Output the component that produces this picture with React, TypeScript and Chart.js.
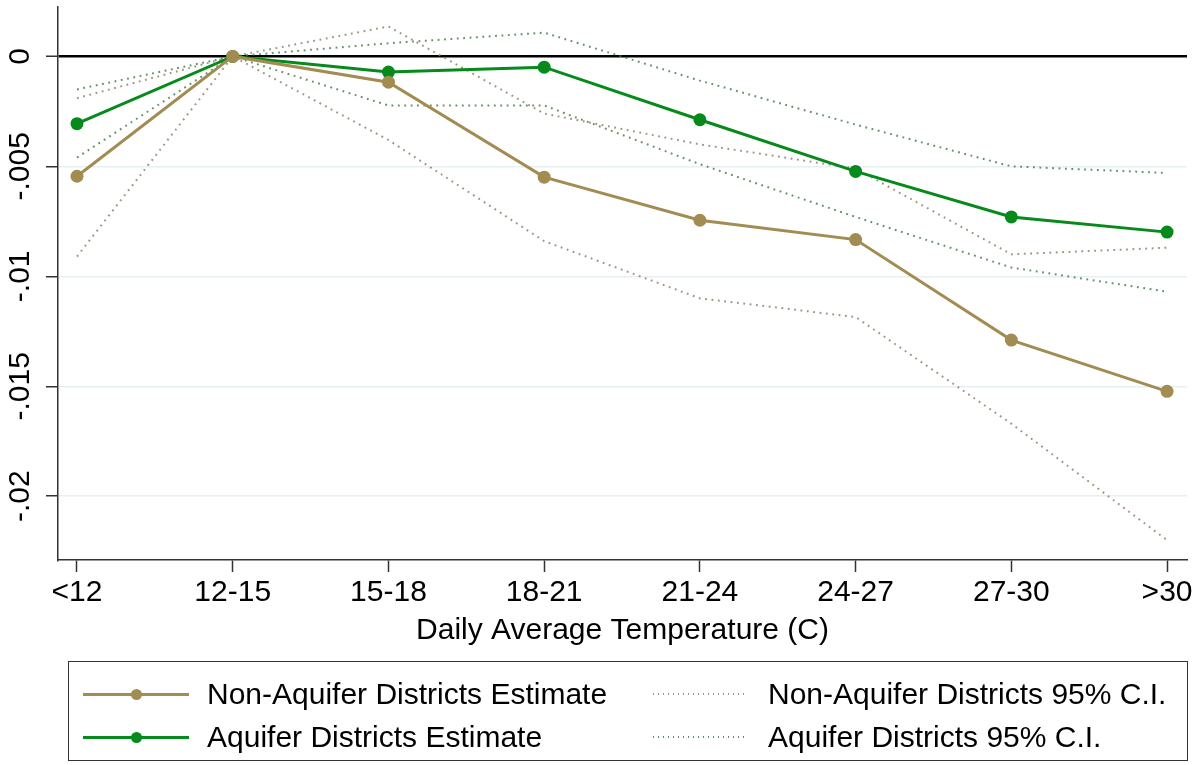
import { useEffect, useRef } from 'react';
import { Chart, registerables } from 'chart.js';

Chart.register(...registerables);

// temperature bins on the x axis
const categories = ['<12', '12-15', '15-18', '18-21', '21-24', '24-27', '27-30', '>30'];

// point estimates
const nonAquiferEstimate = [-0.00545, 0, -0.00117, -0.00549, -0.00745, -0.00833, -0.0129, -0.01523];
const aquiferEstimate = [-0.00306, 0, -0.00071, -0.00049, -0.00288, -0.00523, -0.0073, -0.00799];

// 95% confidence bounds
const nonAquiferUpper = [-0.0019, 0, 0.00136, -0.0026, -0.004, -0.0051, -0.009, -0.0087];
const nonAquiferLower = [-0.0091, 0, -0.0038, -0.0084, -0.011, -0.01185, -0.0167, -0.022];
const aquiferUpper = [-0.0015, 0, 0.0006, 0.00108, -0.0011, -0.0031, -0.005, -0.0053];
const aquiferLower = [-0.0046, 0, -0.00223, -0.00223, -0.0049, -0.0073, -0.0096, -0.0107];

// y axis ticks
const yTickValues = [0, -0.005, -0.01, -0.015, -0.02];
const yTickLabels = ['0', '-.005', '-.01', '-.015', '-.02'];

const xTitle = 'Daily Average Temperature (C)';
const legendLabels = [
  'Non-Aquifer Districts Estimate',
  'Aquifer Districts Estimate',
  'Non-Aquifer Districts 95% C.I.',
  'Aquifer Districts 95% C.I.',
];

const FONT = "'Liberation Sans', Arial, Helvetica, sans-serif";
const TAN = '#a38c52';
const GREEN = '#078a1c';
const TAN_CI = 'rgba(140, 132, 105, 0.85)';
const GREEN_CI = 'rgba(70, 125, 78, 0.85)';

const toPoints = (vals: number[]) => vals.map((y, x) => ({ x, y }));

function TemperatureChart() {
  const canvasRef = useRef<HTMLCanvasElement>(null);
  const chartRef = useRef<Chart | null>(null);

  useEffect(() => {
    if (!canvasRef.current) return;
    if (chartRef.current) chartRef.current.destroy();

    const ctx = canvasRef.current.getContext('2d');
    if (!ctx) return;

    const estimateStyle = (color: string) => ({
      borderColor: color,
      backgroundColor: color,
      borderWidth: 3,
      pointRadius: 6.5,
      pointBackgroundColor: color,
      pointBorderWidth: 0,
      order: 0,
    });
    const ciStyle = (color: string) => ({
      borderColor: color,
      borderWidth: 2,
      borderDash: [1.8, 4.6],
      pointRadius: 0,
      order: 1,
    });

    chartRef.current = new Chart(ctx, {
      type: 'line',
      data: {
        datasets: [
          { label: legendLabels[0], data: toPoints(nonAquiferEstimate), ...estimateStyle(TAN) },
          { label: legendLabels[1], data: toPoints(aquiferEstimate), ...estimateStyle(GREEN) },
          { label: legendLabels[2], data: toPoints(nonAquiferUpper), ...ciStyle(TAN_CI) },
          { label: legendLabels[2], data: toPoints(nonAquiferLower), ...ciStyle(TAN_CI) },
          { label: legendLabels[3], data: toPoints(aquiferUpper), ...ciStyle(GREEN_CI) },
          { label: legendLabels[3], data: toPoints(aquiferLower), ...ciStyle(GREEN_CI) },
        ],
      },
      options: {
        animation: false,
        responsive: true,
        maintainAspectRatio: false,
        layout: { padding: { top: 6, right: 14, left: 0, bottom: 0 } },
        plugins: {
          legend: { display: false },
          tooltip: { enabled: false },
        },
        scales: {
          x: {
            type: 'linear',
            min: -0.122,
            max: 7.128,
            afterBuildTicks: (scale) => {
              scale.ticks = categories.map((_, i) => ({ value: i }));
            },
            afterFit: (scale) => {
              scale.height = 205;
            },
            ticks: {
              autoSkip: false,
              maxRotation: 0,
              padding: 3,
              color: '#000',
              font: { family: FONT, size: 30, lineHeight: 1.2 },
              callback: (value) => categories[Math.round(Number(value))],
            },
            grid: {
              drawOnChartArea: false,
              drawTicks: true,
              tickLength: 12,
              tickColor: '#333',
              tickWidth: 1.5,
            },
            border: { color: '#333', width: 1.5 },
            title: {
              display: true,
              text: xTitle,
              color: '#000',
              font: { family: FONT, size: 30, lineHeight: 1.2 },
              padding: { top: 0, bottom: 116 },
            },
          },
          y: {
            type: 'linear',
            min: -0.0229,
            max: 0.00227,
            afterBuildTicks: (scale) => {
              scale.ticks = yTickValues.map((v) => ({ value: v }));
            },
            afterFit: (scale) => {
              scale.width = 58;
              scale.paddingTop = 0;
              scale.paddingBottom = 0;
            },
            ticks: {
              minRotation: 90,
              maxRotation: 90,
              crossAlign: 'center',
              padding: -9,
              color: '#000',
              font: { family: FONT, size: 30, lineHeight: 1.2 },
              callback: (value) => {
                const i = yTickValues.findIndex((v) => Math.abs(v - Number(value)) < 1e-9);
                return i >= 0 ? yTickLabels[i] : '';
              },
            },
            grid: {
              color: (c) => (c.tick && c.tick.value === 0 ? '#000' : '#e6eff1'),
              lineWidth: (c) => (c.tick && c.tick.value === 0 ? 2.5 : 1.5),
              drawTicks: true,
              tickLength: 12,
              tickColor: '#333',
              tickWidth: 1.5,
            },
            border: { color: '#333', width: 1.5 },
          },
        },
      },
    });

    return () => {
      if (chartRef.current) {
        chartRef.current.destroy();
        chartRef.current = null;
      }
    };
  }, []);

  return <canvas ref={canvasRef}></canvas>;
}

function LineSample({ color, dotted }: { color: string; dotted?: boolean }) {
  if (dotted) {
    return (
      <div
        style={{
          width: 92,
          height: 2,
          backgroundImage: `repeating-linear-gradient(to right, ${color} 0 1.5px, transparent 1.5px 5px)`,
        }}
      />
    );
  }
  return (
    <div style={{ position: 'relative', width: 106, height: 3, background: color }}>
      <div
        style={{
          position: 'absolute',
          left: 48,
          top: -4,
          width: 11,
          height: 11,
          borderRadius: '50%',
          background: color,
        }}
      />
    </div>
  );
}

function LegendRow({ top, left, sampleLeft, textLeft, label, children }: any) {
  return (
    <div style={{ position: 'absolute', top, left, height: 40, display: 'flex', alignItems: 'center' }}>
      <div style={{ width: textLeft, display: 'flex', alignItems: 'center' }}>
        <div style={{ marginLeft: sampleLeft }}>{children}</div>
      </div>
      <span style={{ fontFamily: FONT, fontSize: 30, color: '#000', whiteSpace: 'nowrap', lineHeight: 1 }}>
        {label}
      </span>
    </div>
  );
}

export default function App() {
  return (
    <div
      style={{
        position: 'absolute',
        left: 0,
        top: 0,
        width: 1201,
        height: 765,
        background: '#fff',
        overflow: 'hidden',
      }}
    >
      <div style={{ position: 'absolute', left: 0, top: 0, width: 1201, height: 765 }}>
        <TemperatureChart />
      </div>
      <div
        style={{
          position: 'absolute',
          left: 68,
          top: 661,
          width: 1120,
          height: 100,
          border: '1.5px solid #333',
          boxSizing: 'border-box',
        }}
      >
        <LegendRow top={12} left={0} sampleLeft={14} textLeft={138} label={legendLabels[0]}>
          <LineSample color={TAN} />
        </LegendRow>
        <LegendRow top={55} left={0} sampleLeft={14} textLeft={138} label={legendLabels[1]}>
          <LineSample color={GREEN} />
        </LegendRow>
        <LegendRow top={12} left={584} sampleLeft={0} textLeft={115} label={legendLabels[2]}>
          <LineSample color={TAN_CI} dotted />
        </LegendRow>
        <LegendRow top={55} left={584} sampleLeft={0} textLeft={115} label={legendLabels[3]}>
          <LineSample color={GREEN_CI} dotted />
        </LegendRow>
      </div>
    </div>
  );
}
